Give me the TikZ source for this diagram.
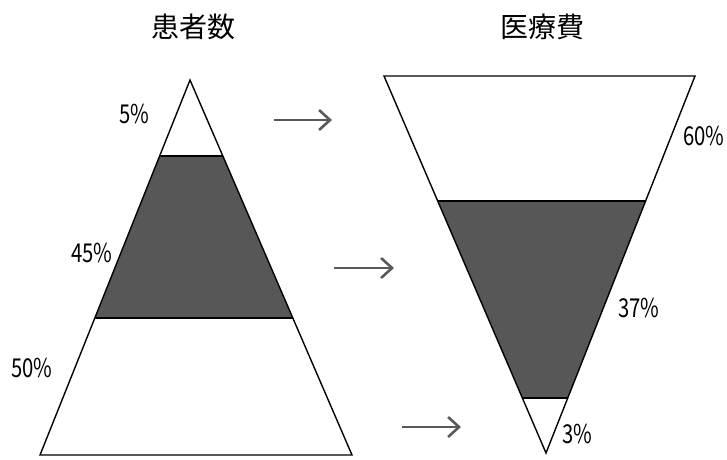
\documentclass[tikz,border=0pt]{standalone}
\usepackage{fontspec}
\setmainfont{Noto Sans CJK JP}
\usetikzlibrary{arrows.meta}
\tikzset{
  outline/.style={draw=black, line width=1.4pt, line join=miter},
  band/.style={fill=black!66},
  pct/.style={font=\fontsize{26}{26}\selectfont, inner sep=0pt, xscale=0.78},
  ttl/.style={font=\fontsize{28}{28}\selectfont, inner sep=0pt},
  flow/.style={draw=black!65, line width=2.6pt, -{Straight Barb[length=11pt,width=20pt,line width=2.6pt]}}
}
\begin{document}
\begin{tikzpicture}[x=1pt,y=-1pt]
\useasboundingbox (0,0) rectangle (727,459);
% left pyramid
\begin{scope}
\clip (190,80) -- (352,455) -- (40,455) -- cycle;
\fill[band] (0,156) rectangle (400,318);
\draw[outline] (0,156) -- (400,156);
\draw[outline] (0,318) -- (400,318);
\end{scope}
\draw[outline] (190,80) -- (352,455) -- (40,455) -- cycle;
% right inverted pyramid
\begin{scope}
\clip (384,76) -- (695,76) -- (546,453) -- cycle;
\fill[band] (380,201) rectangle (700,398);
\draw[outline] (380,201) -- (700,201);
\draw[outline] (380,398) -- (700,398);
\end{scope}
\draw[outline] (384,76) -- (695,76) -- (546,453) -- cycle;
% titles
\node[ttl] (t1) at (193,27) {患者数};
\node[ttl] (t2) at (542,27) {医療費};
% labels
\node[pct] (p5) at (134,114) {5\%};
\node[pct] (p45) at (92,253) {45\%};
\node[pct] (p50) at (32,368) {50\%};
\node[pct] (p60) at (704,136) {60\%};
\node[pct] (p37) at (639,308) {37\%};
\node[pct] (p3) at (577,434) {3\%};
% arrows
\coordinate (a1s) at (274,120); \coordinate (a1e) at (332,120);
\coordinate (a2s) at (334,268); \coordinate (a2e) at (394,268);
\coordinate (a3s) at (402,427); \coordinate (a3e) at (461,427);
\draw[flow] (a1s) -- (a1e);
\draw[flow] (a2s) -- (a2e);
\draw[flow] (a3s) -- (a3e);
\end{tikzpicture}
\end{document}
